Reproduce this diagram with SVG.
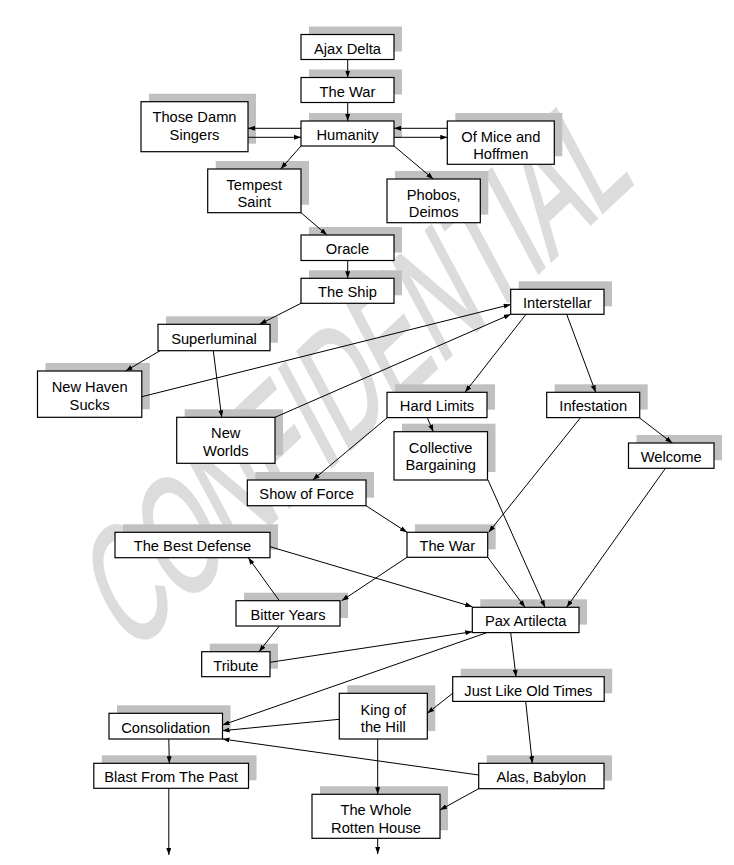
<svg xmlns="http://www.w3.org/2000/svg" width="734" height="865" viewBox="0 0 734 865">
<style>
.sh{fill:#c0c0c0;stroke:none}
.bx{fill:#fff;stroke:#000;stroke-width:1.2}
.t{font-family:"Liberation Sans",Arial,sans-serif;font-size:14.7px;text-anchor:middle;fill:#000}
.c{stroke:#000;stroke-width:1;fill:none;marker-end:url(#ah)}
.wm{font-family:"Liberation Sans",Arial,sans-serif;font-size:162px;fill:#dcdcdc;stroke:#dcdcdc;stroke-width:3}
</style>
<defs>
<marker id="ah" viewBox="0 0 7 5" refX="7" refY="2.5" markerWidth="7" markerHeight="5" markerUnits="userSpaceOnUse" orient="auto"><path d="M0,0 L7,2.5 L0,5 z" fill="#000"/></marker>
</defs>
<rect width="734" height="865" fill="#fff"/>
<g id="watermark">
<text class="wm" x="0" y="0" textLength="692" lengthAdjust="spacingAndGlyphs" transform="matrix(0.73,-0.685,0.47,0.88,130,656)">CONFIDENTIAL</text>
</g>
<g id="n-ajax"><rect class="sh" x="309" y="26.5" width="93" height="25"/><rect class="bx" x="301" y="34.5" width="93" height="25"/><text class="t" x="347.5" y="53.5">Ajax Delta</text></g>
<g id="n-war1"><rect class="sh" x="309" y="69.5" width="93" height="25"/><rect class="bx" x="301" y="77.5" width="93" height="25"/><text class="t" x="347.5" y="96.5">The War</text></g>
<g id="n-humanity"><rect class="sh" x="309" y="113" width="93" height="25"/><rect class="bx" x="301" y="121" width="93" height="25"/><text class="t" x="347.5" y="140">Humanity</text></g>
<g id="n-singers"><rect class="sh" x="149" y="93.7" width="107" height="50"/><rect class="bx" x="141" y="101.7" width="107" height="50"/><text class="t" x="194.5" y="122.2">Those Damn</text><text class="t" x="194.5" y="140.2">Singers</text></g>
<g id="n-mice"><rect class="sh" x="455.3" y="113" width="107" height="43.3"/><rect class="bx" x="447.3" y="121" width="107" height="43.3"/><text class="t" x="500.8" y="141.6">Of Mice and</text><text class="t" x="500.8" y="159.4">Hoffmen</text></g>
<g id="n-tempest"><rect class="sh" x="215.7" y="161" width="93.3" height="43.7"/><rect class="bx" x="207.7" y="169" width="93.3" height="43.7"/><text class="t" x="254.3" y="189.6">Tempest</text><text class="t" x="254.3" y="207.4">Saint</text></g>
<g id="n-phobos"><rect class="sh" x="395" y="171" width="93.3" height="43.7"/><rect class="bx" x="387" y="179" width="93.3" height="43.7"/><text class="t" x="433.7" y="199.6">Phobos,</text><text class="t" x="433.7" y="217.4">Deimos</text></g>
<g id="n-oracle"><rect class="sh" x="309" y="227" width="93" height="25.5"/><rect class="bx" x="301" y="235" width="93" height="25.5"/><text class="t" x="347.5" y="254.2">Oracle</text></g>
<g id="n-ship"><rect class="sh" x="309" y="270.3" width="93" height="25"/><rect class="bx" x="301" y="278.3" width="93" height="25"/><text class="t" x="347.5" y="297.3">The Ship</text></g>
<g id="n-interstellar"><rect class="sh" x="518.7" y="281.3" width="93.3" height="25"/><rect class="bx" x="510.7" y="289.3" width="93.3" height="25"/><text class="t" x="557.3" y="308.3">Interstellar</text></g>
<g id="n-superluminal"><rect class="sh" x="166" y="316.3" width="112" height="26.4"/><rect class="bx" x="158" y="324.3" width="112" height="26.4"/><text class="t" x="214" y="343.5">Superluminal</text></g>
<g id="n-newhaven"><rect class="sh" x="45.5" y="363" width="104.3" height="46.3"/><rect class="bx" x="37.5" y="371" width="104.3" height="46.3"/><text class="t" x="89.6" y="391.7">New Haven</text><text class="t" x="89.6" y="410">Sucks</text></g>
<g id="n-newworlds"><rect class="sh" x="184.7" y="409.3" width="98.3" height="46"/><rect class="bx" x="176.7" y="417.3" width="98.3" height="46"/><text class="t" x="225.8" y="438.3">New</text><text class="t" x="225.8" y="456">Worlds</text></g>
<g id="n-hardlimits"><rect class="sh" x="395" y="384.3" width="100" height="25.3"/><rect class="bx" x="387" y="392.3" width="100" height="25.3"/><text class="t" x="437" y="411.4">Hard Limits</text></g>
<g id="n-infestation"><rect class="sh" x="554.7" y="384.3" width="93" height="25.3"/><rect class="bx" x="546.7" y="392.3" width="93" height="25.3"/><text class="t" x="593.2" y="411.4">Infestation</text></g>
<g id="n-collective"><rect class="sh" x="402" y="423.7" width="93.5" height="48.3"/><rect class="bx" x="394" y="431.7" width="93.5" height="48.3"/><text class="t" x="440.7" y="452.5">Collective</text><text class="t" x="440.7" y="470.2">Bargaining</text></g>
<g id="n-welcome"><rect class="sh" x="636.5" y="435" width="85.5" height="25.3"/><rect class="bx" x="628.5" y="443" width="85.5" height="25.3"/><text class="t" x="671.2" y="462.1">Welcome</text></g>
<g id="n-showofforce"><rect class="sh" x="255.3" y="472" width="118.7" height="25.7"/><rect class="bx" x="247.3" y="480" width="118.7" height="25.7"/><text class="t" x="306.7" y="499.2">Show of Force</text></g>
<g id="n-bestdefense"><rect class="sh" x="123" y="524.3" width="155" height="25.4"/><rect class="bx" x="115" y="532.3" width="155" height="25.4"/><text class="t" x="192.5" y="551.4">The Best Defense</text></g>
<g id="n-war2"><rect class="sh" x="415" y="524.3" width="80.7" height="25"/><rect class="bx" x="407" y="532.3" width="80.7" height="25"/><text class="t" x="447.3" y="551.3">The War</text></g>
<g id="n-bitter"><rect class="sh" x="244" y="592.7" width="104" height="25.3"/><rect class="bx" x="236" y="600.7" width="104" height="25.3"/><text class="t" x="288" y="619.8">Bitter Years</text></g>
<g id="n-pax"><rect class="sh" x="480.3" y="599.3" width="106.7" height="25.3"/><rect class="bx" x="472.3" y="607.3" width="106.7" height="25.3"/><text class="t" x="525.7" y="626.4">Pax Artilecta</text></g>
<g id="n-tribute"><rect class="sh" x="209.7" y="643.7" width="68.3" height="25"/><rect class="bx" x="201.7" y="651.7" width="68.3" height="25"/><text class="t" x="235.8" y="670.7">Tribute</text></g>
<g id="n-justlike"><rect class="sh" x="460.7" y="668.7" width="151.5" height="24.7"/><rect class="bx" x="452.7" y="676.7" width="151.5" height="24.7"/><text class="t" x="528.4" y="695.6">Just Like Old Times</text></g>
<g id="n-king"><rect class="sh" x="347.3" y="685.3" width="88" height="45.7"/><rect class="bx" x="339.3" y="693.3" width="88" height="45.7"/><text class="t" x="383.3" y="714.6">King of</text><text class="t" x="383.3" y="732">the Hill</text></g>
<g id="n-consolidation"><rect class="sh" x="117" y="705.3" width="113.5" height="25.7"/><rect class="bx" x="109" y="713.3" width="113.5" height="25.7"/><text class="t" x="165.7" y="732.5">Consolidation</text></g>
<g id="n-blast"><rect class="sh" x="101.8" y="755.3" width="154.7" height="25"/><rect class="bx" x="93.8" y="763.3" width="154.7" height="25"/><text class="t" x="171.1" y="782.3">Blast From The Past</text></g>
<g id="n-alas"><rect class="sh" x="486.7" y="755.3" width="125.3" height="25.4"/><rect class="bx" x="478.7" y="763.3" width="125.3" height="25.4"/><text class="t" x="541.3" y="782.4">Alas, Babylon</text></g>
<g id="n-whole"><rect class="sh" x="320" y="786.3" width="128" height="44"/><rect class="bx" x="312" y="794.3" width="128" height="44"/><text class="t" x="376" y="815">The Whole</text><text class="t" x="376" y="832.7">Rotten House</text></g>
<g id="connectors">
<line class="c" x1="347.7" y1="59.5" x2="347.7" y2="77.5"/>
<line class="c" x1="347.7" y1="102.5" x2="347.7" y2="121"/>
<line class="c" x1="301" y1="128.3" x2="248" y2="128.3"/>
<line class="c" x1="248" y1="137.3" x2="301" y2="137.3"/>
<line class="c" x1="447.3" y1="128.3" x2="394" y2="128.3"/>
<line class="c" x1="394" y1="137.3" x2="447.3" y2="137.3"/>
<line class="c" x1="301" y1="146" x2="280.7" y2="169"/>
<line class="c" x1="394" y1="146" x2="433.3" y2="179"/>
<line class="c" x1="301" y1="212.7" x2="327" y2="235"/>
<line class="c" x1="347.7" y1="260.5" x2="347.7" y2="278.3"/>
<line class="c" x1="301" y1="303.3" x2="259.6" y2="324.3"/>
<line class="c" x1="160" y1="350.7" x2="125.7" y2="371"/>
<line class="c" x1="213.3" y1="350.7" x2="221.7" y2="417.3"/>
<line class="c" x1="141.8" y1="396.7" x2="510.7" y2="304.5"/>
<line class="c" x1="275" y1="417.3" x2="510.7" y2="314.3"/>
<line class="c" x1="526" y1="314.3" x2="465" y2="392.3"/>
<line class="c" x1="566.7" y1="314.3" x2="595.7" y2="392.3"/>
<line class="c" x1="427.3" y1="417.7" x2="433.3" y2="431.7"/>
<line class="c" x1="387.3" y1="417.7" x2="312.7" y2="480"/>
<line class="c" x1="639.3" y1="417.7" x2="672.3" y2="443"/>
<line class="c" x1="580.5" y1="417.7" x2="488.7" y2="532.3"/>
<line class="c" x1="366" y1="505.7" x2="407" y2="532.3"/>
<line class="c" x1="488" y1="480" x2="545" y2="607.3"/>
<line class="c" x1="487.7" y1="557.3" x2="525" y2="607.3"/>
<line class="c" x1="665.4" y1="468.3" x2="566.7" y2="607.3"/>
<line class="c" x1="407" y1="557.3" x2="341.7" y2="600.7"/>
<line class="c" x1="270" y1="546.7" x2="472.3" y2="606.7"/>
<line class="c" x1="279.3" y1="600.7" x2="248.3" y2="557.7"/>
<line class="c" x1="279.3" y1="626" x2="259" y2="651.7"/>
<line class="c" x1="270" y1="662.3" x2="472.3" y2="631.7"/>
<line class="c" x1="486.7" y1="632.7" x2="222.5" y2="725"/>
<line class="c" x1="510.7" y1="632.7" x2="516" y2="676.7"/>
<line class="c" x1="452.7" y1="693.3" x2="427.3" y2="713.3"/>
<line class="c" x1="339.3" y1="719.3" x2="222.5" y2="730.7"/>
<line class="c" x1="377.7" y1="739" x2="377.7" y2="794.3"/>
<line class="c" x1="525.7" y1="701.4" x2="532.3" y2="763.3"/>
<line class="c" x1="478.7" y1="775" x2="222.5" y2="739"/>
<line class="c" x1="478.7" y1="788.7" x2="440" y2="810"/>
<line class="c" x1="168.8" y1="739" x2="169.3" y2="763.3"/>
<line class="c" x1="168.8" y1="788.3" x2="168.8" y2="855"/>
<line class="c" x1="377.7" y1="838.3" x2="377.7" y2="854"/>
</g>
</svg>
